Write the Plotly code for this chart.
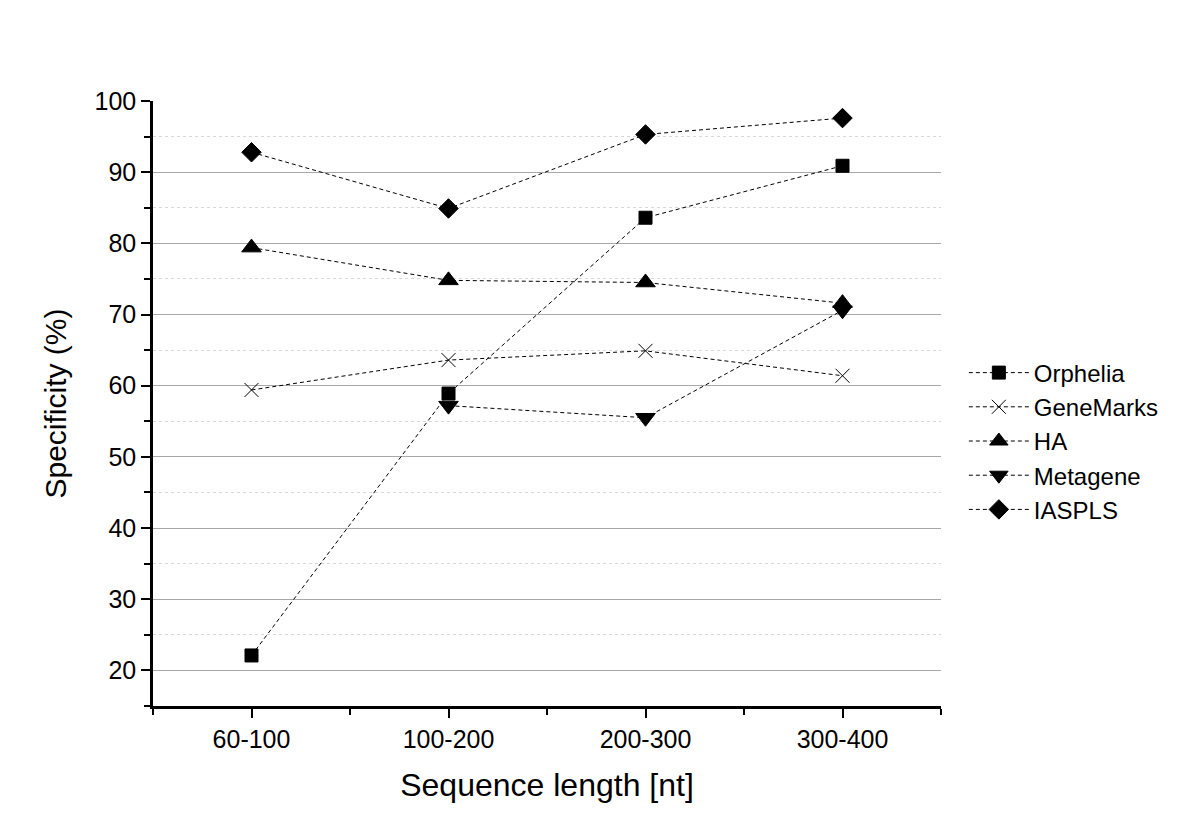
import plotly.graph_objects as go

categories = ["60-100", "100-200", "200-300", "300-400"]

orphelia = [22.1, 58.9, 83.6, 90.9]
genemarks = [59.4, 63.6, 64.9, 61.4]
ha = [79.4, 74.8, 74.5, 71.6]
metagene = [None, 57.2, 55.5, 70.6]
iaspls = [92.8, 84.9, 95.3, 97.6]

y_major = [20, 30, 40, 50, 60, 70, 80, 90, 100]
y_grid = [20, 30, 40, 50, 60, 70, 80, 90]
y_minor_grid = [25, 35, 45, 55, 65, 75, 85, 95]

series = [
    ("Orphelia", orphelia, "square", 13),
    ("GeneMarks", genemarks, "x-thin-open", 14),
    ("HA", ha, "triangle-up", 17),
    ("Metagene", metagene, "triangle-down", 17),
    ("IASPLS", iaspls, "diamond", 15),
]

FONT = "Liberation Sans, Arial, sans-serif"
xpos = list(range(len(categories)))

fig = go.Figure()
# placeholder on the grid axis so plotly draws its gridlines
fig.add_trace(
    go.Scatter(x=[xpos[0]], y=[None], showlegend=False, hoverinfo="skip", mode="markers")
)
for name, vals, symbol, size in series:
    fig.add_trace(
        go.Scatter(
            x=xpos,
            y=vals,
            name=name,
            mode="lines+markers",
            yaxis="y2",
            line={"color": "black", "width": 1, "dash": "4px,3px"},
            marker={
                "symbol": symbol,
                "size": size,
                "color": "black",
                "line": {"color": "black", "width": 1},
            },
        )
    )

fig.update_layout(
    width=1200,
    height=833,
    paper_bgcolor="white",
    plot_bgcolor="white",
    margin={"l": 145, "r": 267, "t": 93, "b": 135},
    font={"family": FONT, "color": "black", "size": 24},
    showlegend=True,
    legend={
        "x": 1.029,
        "y": 0.438,
        "xanchor": "left",
        "yanchor": "middle",
        "font": {"size": 24},
        "itemwidth": 60,
        "tracegroupgap": 0,
        "bgcolor": "rgba(0,0,0,0)",
    },
    xaxis={
        "range": [-0.5, 3.5],
        "tickvals": xpos,
        "ticktext": categories,
        "showgrid": False,
        "zeroline": False,
        "showline": True,
        "linecolor": "black",
        "linewidth": 2.5,
        "ticks": "outside",
        "ticklen": 9,
        "tickwidth": 2,
        "tickcolor": "black",
        "tickfont": {"size": 25},
        "minor": {
            "tickvals": [-0.5, 0.5, 1.5, 2.5, 3.5],
            "ticks": "outside",
            "ticklen": 6,
            "tickwidth": 2,
            "tickcolor": "black",
        },
        "title": {"text": "Sequence length [nt]", "font": {"size": 32}, "standoff": 22},
    },
    yaxis={
        "range": [15, 100],
        "tickvals": y_grid,
        "showticklabels": False,
        "ticks": "",
        "showgrid": True,
        "gridcolor": "#a8a8a8",
        "gridwidth": 1,
        "zeroline": False,
        "showline": False,
        "minor": {
            "tickvals": y_minor_grid,
            "showgrid": True,
            "gridcolor": "#d8d8d8",
            "griddash": "dot",
            "gridwidth": 1,
        },
    },
    yaxis2={
        "range": [15, 100],
        "overlaying": "y",
        "side": "left",
        "tickvals": y_major,
        "showgrid": False,
        "zeroline": False,
        "showline": True,
        "linecolor": "black",
        "linewidth": 2.5,
        "ticks": "outside",
        "ticklen": 9,
        "tickwidth": 2,
        "tickcolor": "black",
        "tickfont": {"size": 25},
        "minor": {
            "tickvals": [15] + y_minor_grid,
            "ticks": "outside",
            "ticklen": 6,
            "tickwidth": 2,
            "tickcolor": "black",
        },
        "title": {"text": "Specificity (%)", "font": {"size": 30}, "standoff": 20},
    },
)

fig.write_html("out.html")
